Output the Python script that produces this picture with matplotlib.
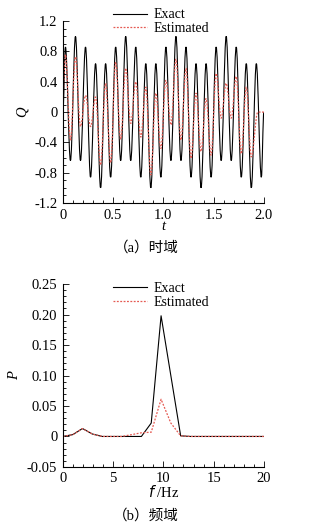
import numpy as np
import matplotlib
matplotlib.use("Agg")
import matplotlib.pyplot as plt
from matplotlib.ticker import MultipleLocator, FuncFormatter
from matplotlib.path import Path
from matplotlib.patches import PathPatch
from matplotlib.lines import Line2D

plt.rcParams['font.family'] = ['Liberation Serif', 'Noto Sans CJK SC']
plt.rcParams['font.size'] = 10.5

# (a) time domain: extrema
t_exact = [0.0, 0.025, 0.075, 0.125, 0.175, 0.225, 0.275, 0.325, 0.375, 0.425, 0.475,
           0.525, 0.575, 0.625, 0.675, 0.725, 0.775, 0.825, 0.875, 0.925, 0.975,
           1.025, 1.075, 1.125, 1.175, 1.225, 1.275, 1.325, 1.375, 1.425, 1.475,
           1.525, 1.575, 1.625, 1.675, 1.725, 1.775, 1.825, 1.875, 1.925, 1.975, 2.0]
q_exact = [0.0, 0.86, -0.64, 1.0, -0.64, 0.86, -0.86, 0.64, -1.0, 0.64, -0.86,
           0.86, -0.64, 1.0, -0.64, 0.86, -0.86, 0.64, -1.0, 0.64, -0.86,
           0.86, -0.64, 1.0, -0.64, 0.86, -0.86, 0.64, -1.0, 0.64, -0.86,
           0.86, -0.64, 1.0, -0.64, 0.86, -0.86, 0.64, -1.0, 0.64, -0.86, 0.0]

t_est = [0.0, 0.025, 0.075, 0.125, 0.175, 0.225, 0.275, 0.325, 0.375, 0.425, 0.475,
         0.525, 0.575, 0.625, 0.675, 0.725, 0.775, 0.825, 0.875, 0.925, 0.975,
         1.025, 1.075, 1.125, 1.175, 1.225, 1.275, 1.325, 1.375, 1.425, 1.475,
         1.525, 1.575, 1.625, 1.675, 1.725, 1.775, 1.825, 1.875, 1.94, 2.0]
q_est = [0.2, 0.76, -0.37, 0.73, -0.19, 0.22, -0.19, 0.20, -0.70, 0.38, -0.67,
         0.66, -0.36, 0.58, -0.15, 0.40, -0.33, 0.33, -0.83, 0.25, -0.48,
         0.42, -0.17, 0.70, -0.37, 0.58, -0.61, 0.25, -0.52, 0.18, -0.57,
         0.51, -0.08, 0.38, -0.08, 0.47, -0.55, 0.33, -0.59, 0.0, 0.0]

# (b) frequency domain
freq = [0.0, 0.98, 1.95, 2.93, 3.91, 4.88, 5.86, 6.84, 7.81, 8.79, 9.77, 10.74,
        11.72, 12.70, 13.67, 14.65, 15.63, 16.60, 17.58, 18.55, 19.53, 20.51]
p_exact = [0.0, 0.003, 0.013, 0.004, 0.0, 0.0, 0.0, 0.0, 0.0, 0.022, 0.198, 0.100,
           0.001, 0.0, 0.0, 0.0, 0.0, 0.0, 0.0, 0.0, 0.0, 0.0]
p_est = [0.0, 0.003, 0.013, 0.004, 0.0, 0.0, 0.0, 0.003, 0.006, 0.007, 0.061, 0.022,
         0.001, 0.0, 0.0, 0.0, 0.0, 0.0, 0.0, 0.0, 0.0, 0.0]

red = '#e55a52'
dots = (0, (1.5, 1.2))


def smooth_path(xs, ys):
    # cubic bezier segments with flat tangents at each extremum
    verts = [(xs[0], ys[0])]
    codes = [Path.MOVETO]
    for i in range(1, len(xs)):
        x0, y0, x1, y1 = xs[i - 1], ys[i - 1], xs[i], ys[i]
        d = (x1 - x0) * 0.36
        verts += [(x0 + d, y0), (x1 - d, y1), (x1, y1)]
        codes += [Path.CURVE4] * 3
    return Path(verts, codes)


def style(ax):
    ax.spines['top'].set_visible(False)
    ax.spines['right'].set_visible(False)
    for s in ['left', 'bottom']:
        ax.spines[s].set_linewidth(0.8)
    ax.tick_params(which='both', direction='in', width=0.6, labelsize=10.5, pad=4)
    ax.tick_params(which='major', length=4)
    ax.tick_params(which='minor', length=2)


fig = plt.figure(figsize=(3.21, 5.30), dpi=100)

# top panel
ax1 = fig.add_axes([0.196, 0.617, 0.626, 0.343])
ax1.add_patch(PathPatch(smooth_path(t_exact, q_exact), fill=False, edgecolor='black', lw=0.8))
ax1.add_patch(PathPatch(smooth_path(t_est, q_est), fill=False, edgecolor=red, lw=0.9, ls=dots))
ax1.set_xlim(0, 2.0)
ax1.set_ylim(-1.2, 1.2)
ax1.xaxis.set_major_locator(MultipleLocator(0.5))
ax1.xaxis.set_minor_locator(MultipleLocator(0.1))
ax1.yaxis.set_major_locator(MultipleLocator(0.4))
ax1.yaxis.set_minor_locator(MultipleLocator(0.1))
ax1.xaxis.set_major_formatter(FuncFormatter(lambda v, p: '0' if abs(v) < 1e-9 else f'{v:.1f}'))
ax1.yaxis.set_major_formatter(FuncFormatter(lambda v, p: '0' if abs(v) < 1e-9 else f'{v:.1f}'))
style(ax1)
ax1.set_xlabel('t', fontstyle='italic', labelpad=-1)
ax1.set_ylabel('Q', fontstyle='italic', labelpad=4)
handles = [Line2D([], [], color='black', lw=0.8), Line2D([], [], color=red, lw=0.9, ls=dots)]
ax1.legend(handles, ['Exact', 'Estimated'], loc='center', bbox_to_anchor=(0.49, 0.997),
           frameon=False, fontsize=10, handlelength=2.4, handletextpad=0.5,
           labelspacing=0.05, borderpad=0)
fig.text(0.455, 1 - 248 / 530, '（a）时域', ha='center', va='center', fontsize=10.5)

# bottom panel
ax2 = fig.add_axes([0.196, 0.119, 0.626, 0.345])
ax2.plot(freq, p_exact, color='black', lw=0.8, label='Exact')
ax2.plot(freq, p_est, color=red, lw=0.9, ls=dots, label='Estimated')
ax2.set_xlim(0, 20)
ax2.set_ylim(-0.05, 0.25)
ax2.xaxis.set_major_locator(MultipleLocator(5))
ax2.xaxis.set_minor_locator(MultipleLocator(1))
ax2.yaxis.set_major_locator(MultipleLocator(0.05))
ax2.yaxis.set_minor_locator(MultipleLocator(0.01))
ax2.yaxis.set_major_formatter(FuncFormatter(lambda v, p: '0' if abs(v) < 1e-9 else f'{v:.2f}'))
style(ax2)
ax2.set_xlabel(r'$f$ /Hz', labelpad=-1)
ax2.set_ylabel('P', fontstyle='italic', labelpad=4)
ax2.legend(loc='center', bbox_to_anchor=(0.49, 0.937), frameon=False, fontsize=10,
           handlelength=2.4, handletextpad=0.5, labelspacing=0.05, borderpad=0)
fig.text(0.455, 1 - 516 / 530, '（b）频域', ha='center', va='center', fontsize=10.5)

fig.savefig('out.png', dpi=100)
